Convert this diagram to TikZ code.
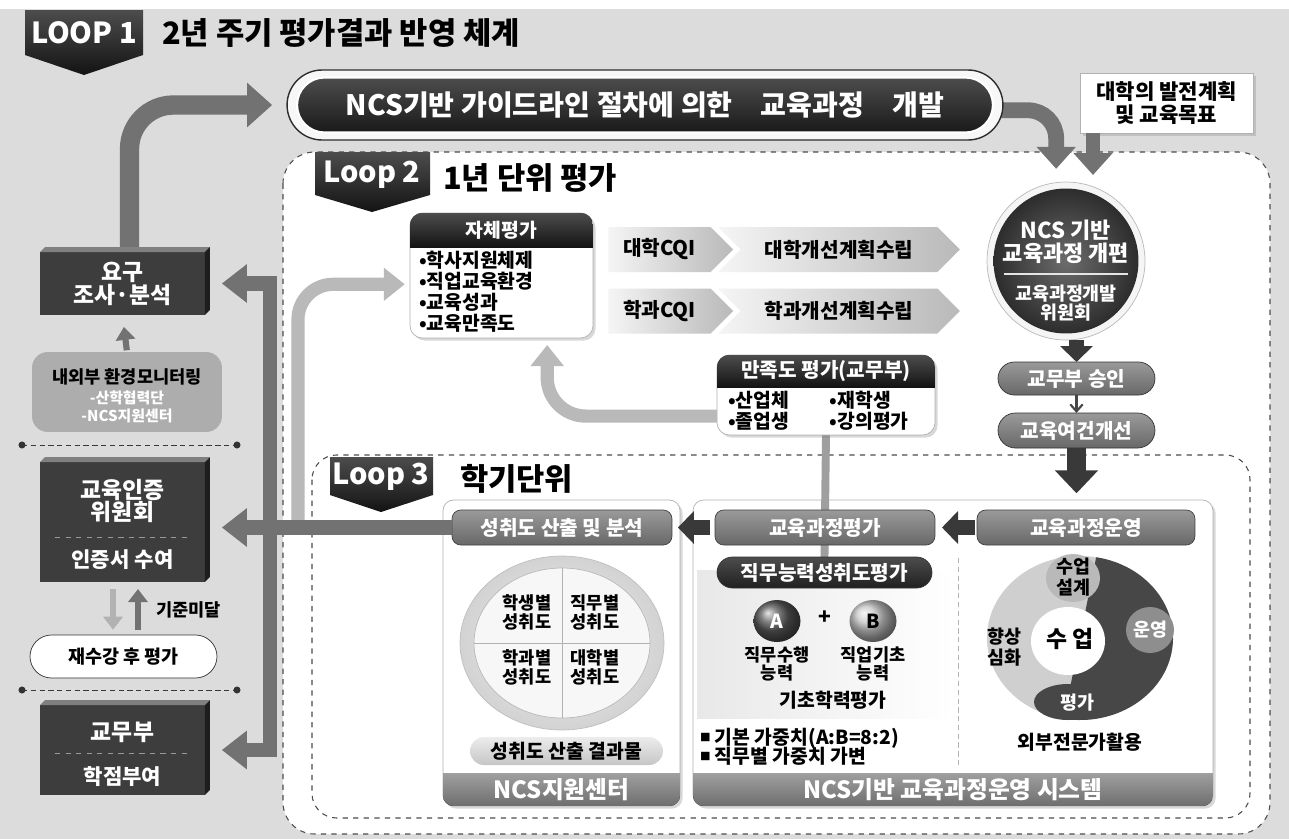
\documentclass[tikz,border=0pt]{standalone}
\usepackage{fontspec}
\setmainfont{Noto Sans CJK KR}
\usetikzlibrary{arrows.meta,positioning,shapes.geometric,shapes.misc,shapes.symbols,shadows}

\pgfdeclarelayer{bg}
\pgfdeclarelayer{conn}
\pgfsetlayers{bg,conn,main}

\newcommand{\fsz}[2]{\fontsize{#1}{#2}\selectfont}

\definecolor{bggray}{HTML}{DCDCDC}
\definecolor{boxdark}{HTML}{3D3D3D}
\definecolor{boxtop}{HTML}{808080}
\definecolor{boxside}{HTML}{1E1E1E}
\definecolor{arrowgray}{HTML}{727272}
\definecolor{softarrowgray}{HTML}{B9B9B9}
\definecolor{pilltop}{HTML}{9A9A9A}
\definecolor{pillbottom}{HTML}{686868}
\definecolor{softgray}{HTML}{ADADAD}
\definecolor{footgray}{HTML}{6E6E6E}
\definecolor{donutlight}{HTML}{CFCFCF}
\definecolor{donutmid}{HTML}{8E8E8E}
\definecolor{donutdark}{HTML}{474747}

\tikzset{
    every node/.style={inner sep=0pt, outer sep=0pt},
    loopzone/.style={draw=gray!60!black, dashed, fill=white, line width=0.6pt},
    loopflag/.style={top color=gray!60!black, bottom color=gray!15!black},
    flagtext/.style={text=white, font=\bfseries\fsz{16.5}{20}},
    looptitle/.style={anchor=west, font=\bfseries\fsz{17.5}{20}},
    cube/.style={fill=boxdark, minimum width=3.3cm},
    cubetop/.style={fill=boxtop},
    cubeside/.style={fill=boxside},
    cubetext/.style={text=white, font=\bfseries\fsz{13}{13}, align=center},
    cubedash/.style={draw=gray!80, dashed, line width=0.5pt},
    dotsep/.style={draw=gray!45!black, densely dashed, line width=0.5pt},
    panelbox/.style={fill=white, draw=gray!60, rounded corners=6pt,
        drop shadow={shadow xshift=1.5pt, shadow yshift=-1.5pt, opacity=0.3}},
    headfill/.style={top color=gray!60!black, bottom color=gray!15!black},
    headtext/.style={text=white, font=\bfseries\fsz{11}{13}},
    chevron/.style={signal, signal to=east, left color=gray!8, right color=gray!55,
        minimum height=0.9cm, font=\bfseries\fsz{11.5}{13}},
    graypill/.style={rounded corners=5pt, top color=pilltop, bottom color=pillbottom,
        draw=gray!50!black, line width=0.4pt, text=white, font=\bfseries\fsz{11.5}{13}, minimum height=0.7cm},
    roundpill/.style={rounded rectangle, top color=pilltop, bottom color=pillbottom,
        draw=gray!40!black, line width=0.4pt, text=white, font=\bfseries\fsz{11.5}{13}},
    footbar/.style={top color=gray!75, bottom color=footgray},
    foottext/.style={text=white, font=\bfseries\fsz{13.5}{16}},
    bigarrow/.style={draw=arrowgray, line width=11pt, -{Triangle[width=0.86cm, length=0.5cm]}},
    midarrow/.style={draw=arrowgray, line width=9pt, -{Triangle[width=0.76cm, length=0.44cm]}},
    sidearrow/.style={draw=arrowgray, line width=8pt, -{Triangle[width=0.74cm, length=0.5cm]}},
    softarrow/.style={draw=softarrowgray, line width=7.5pt, -{Triangle[width=0.64cm, length=0.42cm]}},
    darkarrow/.style={draw=gray!45!black, line width=8pt, -{Triangle[width=0.64cm, length=0.32cm]}},
    smallarrow/.style={draw=arrowgray, line width=3.5pt, -{Triangle[width=0.38cm, length=0.26cm]}},
    stemline/.style={draw=gray!75, line width=4.5pt},
    plaintext/.style={font=\bfseries\fsz{11}{13}},
    donuttext/.style={font=\bfseries\fsz{10.5}{11.5}, align=center},
}

\begin{document}
\begin{tikzpicture}[x=0.02cm, y=-0.02cm]
    \useasboundingbox (0,0) rectangle (1289,839);

    % background, loop zones and panels
    \begin{pgfonlayer}{bg}
        \fill[bggray] (0,9) rectangle (1289,839);
        \draw[loopzone, rounded corners=18pt] (283,152) rectangle (1270,834);
        \draw[loopzone, rounded corners=14pt] (312,455) rectangle (1250,818);
        \node[panelbox, minimum width=4.74cm, minimum height=6.12cm] (centerpanel) at (561.5,653) {};
        \node[panelbox, minimum width=10.4cm, minimum height=6.12cm] (systempanel) at (953,653) {};
        \begin{scope}
            \clip[rounded corners=6pt] (centerpanel.north west) rectangle (centerpanel.south east);
            \fill[footbar] (443,773) rectangle (680,806);
        \end{scope}
        \begin{scope}
            \clip[rounded corners=6pt] (systempanel.north west) rectangle (systempanel.south east);
            \fill[footbar] (693,773) rectangle (1213,806);
        \end{scope}
    \end{pgfonlayer}

    % loop flags and titles
    \shade[loopflag] (25,10) -- (143,10) -- (143,55) -- (84,75) -- (25,55) -- cycle;
    \node[flagtext] (loopone) at (84,33) {LOOP 1};
    \node[looptitle] (looponetitle) at (162,33) {2년 주기 평가결과 반영 체계};

    \shade[loopflag] (315,152) -- (430,152) -- (430,195) -- (372,212) -- (315,195) -- cycle;
    \node[flagtext] (looptwo) at (372,175) {Loop 2};
    \node[looptitle] (looptwotitle) at (443,178) {1년 단위 평가};

    \shade[loopflag] (330,457) -- (433,457) -- (433,495) -- (381,512) -- (330,495) -- cycle;
    \node[flagtext] (loopthree) at (381,477) {Loop 3};
    \node[looptitle] (loopthreetitle) at (460,479) {학기단위};

    % curriculum development
    \node[rounded rectangle, minimum width=14.32cm, minimum height=1.4cm, draw=gray!35!black,
        line width=0.8pt, fill=gray!6] (ncsring) at (645,105) {};
    \node[rounded rectangle, minimum width=13.92cm, minimum height=1.1cm, top color=gray!60!black,
        bottom color=gray!20!black, draw=white, line width=1.2pt, text=white,
        font=\bfseries\fsz{16}{18}] (ncsdev) at (645,105) {NCS기반 가이드라인 절차에 의한\quad 교육과정\quad 개발};

    \node[fill=white, draw=gray!60, minimum width=3.46cm, minimum height=1.2cm, align=center,
        font=\bfseries\fsz{12}{13}, drop shadow={shadow xshift=1.5pt, shadow yshift=-1.5pt, opacity=0.3}]
        (plan) at (1166.5,103) {대학의 발전계획\\및 교육목표};

    \node[circle, minimum size=3.16cm, fill=gray!8, draw=gray!55] (reformring) at (1066,261) {};
    \node[circle, minimum size=2.9cm, inner color=gray!85!black, outer color=gray!35!black] (reform) at (1066,261) {};
    \node[text=white, font=\bfseries\fsz{12.5}{13}, align=center] (reformtitle) at (1066,242) {NCS 기반\\교육과정 개편};
    \draw[gray!20, line width=0.8pt] (1004,274) -- (1128,274);
    \node[text=white, font=\bfseries\fsz{10.5}{10.8}, align=center] (reformcomm) at (1066,303) {교육과정개발\\위원회};

    \node[roundpill, minimum width=3.14cm, minimum height=0.66cm] (approve) at (1076.5,378.5) {교무부 승인};
    \node[roundpill, minimum width=3.14cm, minimum height=0.7cm] (improve) at (1076.5,430.5) {교육여건개선};

    % self evaluation and CQI
    \node[panelbox, rounded corners=7pt, minimum width=3.66cm, minimum height=2.5cm] (selfeval) at (501.5,275.5) {};
    \begin{scope}
        \clip[rounded corners=7pt] (selfeval.north west) rectangle (selfeval.south east);
        \fill[headfill] (selfeval.north west) rectangle (593,247);
    \end{scope}
    \node[headtext] (selfhead) at (501.5,230) {자체평가};
    \node[anchor=north west, font=\bfseries\fsz{11}{12}, align=left] (selfitems) at (419,251)
        {•학사지원체제\\•직업교육환경\\•교육성과\\•교육만족도};

    \node[chevron, minimum width=2.5cm] (univcqi) at (659.5,249.5) {대학CQI};
    \node[chevron, signal from=west, minimum width=4.84cm] (univplan) at (839,249.5) {대학개선계획수립};
    \node[chevron, minimum width=2.5cm] (deptcqi) at (659.5,311) {학과CQI};
    \node[chevron, signal from=west, minimum width=4.84cm] (deptplan) at (839,311) {학과개선계획수립};

    \node[panelbox, rounded corners=7pt, minimum width=4.36cm, minimum height=1.6cm] (satisf) at (826,395) {};
    \begin{scope}
        \clip[rounded corners=7pt] (satisf.north west) rectangle (satisf.south east);
        \fill[headfill] (satisf.north west) rectangle (935,387);
    \end{scope}
    \node[headtext, font=\bfseries\fsz{11.5}{13}] (satishead) at (826,371) {만족도 평가(교무부)};
    \node[anchor=west, font=\bfseries\fsz{11}{12.2}, align=left] (satisitems) at (728,411)
        {\makebox[58pt][l]{•산업체}•재학생\\\makebox[58pt][l]{•졸업생}•강의평가};

    % left column
    \node[cube, cubetext, minimum height=1.26cm] (needs) at (122.5,283.5) {요구\\조사·분석};
    \node[rounded corners=9pt, fill=softgray, minimum width=3.8cm, minimum height=1.6cm] (monitor) at (127,392) {};
    \node[font=\bfseries\fsz{10}{12}] (monitortitle) at (127,377) {내외부 환경모니터링};
    \node[text=white, font=\bfseries\fsz{8.5}{10.5}, align=center] (monitorlist) at (127,407) {-산학협력단\\-NCS지원센터};

    \draw[dotsep] (22,445) -- (237,445);
    \fill[gray!40!black] (22,445) circle[radius=2pt] (237,445) circle[radius=2pt];

    \node[cube, minimum height=2.4cm] (cert) at (122.5,522) {};
    \node[cubetext] (certtitle) at (122.5,501) {교육인증\\위원회};
    \draw[cubedash] (55,537) -- (190,537);
    \node[cubetext, font=\bfseries\fsz{12}{14}] (certissue) at (122.5,560) {인증서 수여};

    \node[rounded rectangle, draw=gray!40!black, fill=white, minimum width=3.74cm, minimum height=0.86cm,
        font=\bfseries\fsz{10.5}{12}] (retake) at (123.5,656.5) {재수강 후 평가};
    \node[anchor=west, font=\bfseries\fsz{10}{12}] (fail) at (156,610) {기준미달};

    \draw[dotsep] (22,690) -- (237,690);
    \fill[gray!40!black] (22,690) circle[radius=2pt] (237,690) circle[radius=2pt];

    \node[cube, minimum height=1.8cm] (registrar) at (122.5,750) {};
    \node[cubetext] (registrartitle) at (122.5,732) {교무부};
    \draw[cubedash] (55,753) -- (190,753);
    \node[cubetext, font=\bfseries\fsz{12}{14}] (registrarcredit) at (122.5,777) {학점부여};

    \foreach \cube in {needs,cert,registrar} {
        \fill[cubetop] (\cube.north west) -- ([shift={(5,-5)}]\cube.north west)
            -- ([shift={(5,-5)}]\cube.north east) -- (\cube.north east) -- cycle;
        \fill[cubeside] (\cube.north east) -- ([shift={(5,-5)}]\cube.north east)
            -- ([shift={(5,-5)}]\cube.south east) -- (\cube.south east) -- cycle;
    }

    % achievement panel
    \node[graypill, minimum width=4.4cm] (achieve) at (562,527.5) {성취도 산출 및 분석};
    \node[ellipse, minimum width=4.08cm, minimum height=3.48cm, inner color=gray!10, outer color=gray!35,
        draw=gray!50] (achring) at (562,643) {};
    \node[ellipse, minimum width=3.52cm, minimum height=3.0cm, fill=gray!6, draw=gray!55] (achcore) at (562,643) {};
    \draw[gray!60] (achcore.north) -- (achcore.south) (achcore.west) -- (achcore.east);
    \node[font=\bfseries\fsz{10}{10.8}, align=center] (bystudent) at (527,612) {학생별\\성취도};
    \node[font=\bfseries\fsz{10}{10.8}, align=center] (byjob) at (595,612) {직무별\\성취도};
    \node[font=\bfseries\fsz{10}{10.8}, align=center] (bydept) at (527,667) {학과별\\성취도};
    \node[font=\bfseries\fsz{10}{10.8}, align=center] (byuniv) at (595,667) {대학별\\성취도};
    \node[rounded rectangle, minimum width=3.86cm, minimum height=0.56cm, top color=gray!15, bottom color=gray!45,
        font=\bfseries\fsz{11}{13}] (result) at (566.5,751) {성취도 산출 결과물};
    \node[foottext] (supportcenter) at (561.5,790) {NCS지원센터};

    % operation system panel
    \node[graypill, minimum width=4.4cm] (evaluate) at (825,527.5) {교육과정평가};
    \node[graypill, minimum width=4.36cm] (operate) at (1086,527.5) {교육과정운영};
    \fill[left color=gray!18, right color=white] (697,570) rectangle (955,718);
    \node[roundpill, minimum width=4.3cm, minimum height=0.62cm, top color=gray!60!black,
        bottom color=gray!25!black] (jobeval) at (824.5,572.5) {직무능력성취도평가};
    \node[ellipse, minimum width=0.94cm, minimum height=0.84cm, ball color=gray!70!black, text=white,
        font=\bfseries\fsz{11}{13}] (jobskill) at (777,621) {A};
    \node[font=\bfseries\fsz{12}{13}] (plus) at (825,618) {+};
    \node[ellipse, minimum width=0.94cm, minimum height=0.84cm, ball color=gray!45,
        font=\bfseries\fsz{11}{13}] (baseskill) at (873,621) {B};
    \node[font=\bfseries\fsz{10}{10.5}, align=center] (jobskilltext) at (777,664) {직무수행\\능력};
    \node[font=\bfseries\fsz{10}{10.5}, align=center] (baseskilltext) at (873,664) {직업기초\\능력};
    \node[plaintext] (basiceval) at (833,700) {기초학력평가};
    \node[anchor=west, plaintext] (weightbase) at (700,738) {\raisebox{0.3ex}{\fsz{6}{6}■} 기본 가중치(A:B=8:2)};
    \node[anchor=west, plaintext] (weightjob) at (700,756) {\raisebox{0.3ex}{\fsz{6}{6}■} 직무별 가중치 가변};
    \draw[dotsep, draw=gray!60] (958,558) -- (958,768);

    % class cycle
    \begin{scope}[shift={(1080,638)}, y=0.02cm]
        \fill[donutlight] (0,0) ellipse [x radius=93, y radius=82];
        \fill[donutdark] (0,0) -- (80:93 and 82) arc[start angle=80, end angle=-100, x radius=93, y radius=82] -- cycle;
        \fill[donutdark] (-12,-64) ellipse [x radius=34, y radius=18];
        \fill[donutmid] (70,8) ellipse [x radius=24, y radius=23];
        \fill[gray!55] (-7,60) ellipse [x radius=27, y radius=24];
        \fill[white] (-12,-3) ellipse [x radius=37, y radius=34];
    \end{scope}
    \node[donuttext] (classdesign) at (1073,577) {수업\\설계};
    \node[donuttext, text=white] (classrun) at (1150,630) {운영};
    \node[donuttext, text=white] (classeval) at (1077,703) {평가};
    \node[donuttext] (classup) at (1004,647) {향상\\심화};
    \node[font=\bfseries\fsz{13}{14}] (classcore) at (1070,639) {수 업};
    \node[plaintext] (experts) at (1080,742) {외부전문가활용};
    \node[foottext] (opsystem) at (953,790) {NCS기반 교육과정운영 시스템};

    % connectors under the nodes
    \begin{pgfonlayer}{conn}
        \draw[bigarrow, rounded corners=25pt, shorten >=8.5pt] ([xshift=4pt]needs.north) |- (ncsring.west);
        \draw[midarrow, rounded corners=16pt, shorten >=7.5pt] ([yshift=-3pt]ncsdev.east) -| ([xshift=-5.6pt]reformring.north);
        \draw[stemline] (satisf.south) -- (jobeval.north);
    \end{pgfonlayer}

    % connectors
    \draw[midarrow, line width=7.5pt, shorten >=4pt] ([xshift=7.4pt]plan.south west) -- ([xshift=7.4pt]plan.south west |- reformring.north);
    \draw[darkarrow] (approve.north |- reformring.south) -- (approve.north);
    \draw[gray!55!black, line width=1.2pt, -{Straight Barb[width=7pt, length=4pt]}] (approve.south) -- (improve.north);
    \draw[darkarrow, line width=11pt, -{Triangle[width=0.84cm, length=0.46cm]}, shorten >=9.5pt] (improve.south) -- (improve.south |- operate.north);
    \draw[darkarrow, shorten <=3pt, shorten >=3.4pt] (evaluate.west) -- (achieve.east);
    \draw[darkarrow, shorten <=1pt, shorten >=4pt] (operate.west) -- (evaluate.east);

    \draw[smallarrow, shorten <=1pt, shorten >=6.8pt] (monitor.north) -- (needs.south);
    \draw[smallarrow, draw=gray!60, shorten <=4pt, shorten >=3pt] ([xshift=-5.4pt]cert.south) -- ([xshift=-5.4pt]cert.south |- retake.north);
    \draw[smallarrow, shorten <=3pt, shorten >=4pt] ([xshift=8.8pt]cert.south |- retake.north) -- ([xshift=8.8pt]cert.south);

    \draw[softarrow, rounded corners=22pt, shorten >=4pt] ([yshift=-12pt]satisf.west) -| ([xshift=26pt]selfeval.south);
    \coordinate (feedback) at (298,528);
    \draw[softarrow, rounded corners=20pt, shorten >=3pt] (feedback) |- ([yshift=-5pt]selfeval.west);

    \coordinate (barjoint) at (270,528);
    \draw[sidearrow, shorten >=9.6pt] (barjoint) |- (needs.east);
    \draw[sidearrow, shorten >=9.6pt] (barjoint) |- (registrar.east);
    \draw[sidearrow, shorten >=9.6pt] (achieve.west) -- (cert.east |- achieve.west);
\end{tikzpicture}
\end{document}
